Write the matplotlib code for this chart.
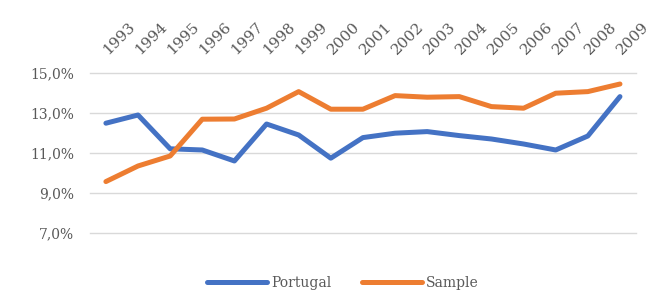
import matplotlib
matplotlib.use("Agg")
import matplotlib.pyplot as plt
import matplotlib.transforms as mtransforms
from matplotlib.ticker import FuncFormatter

years = [str(y) for y in range(1993, 2010)]
portugal = [12.47, 12.88, 11.19, 11.13, 10.58, 12.43, 11.88, 10.72, 11.75,
            11.97, 12.05, 11.85, 11.68, 11.43, 11.13, 11.83, 13.80]
sample = [9.55, 10.33, 10.83, 12.67, 12.68, 13.22, 14.05, 13.17, 13.17,
          13.85, 13.77, 13.80, 13.30, 13.22, 13.97, 14.05, 14.43]

plt.rcParams['font.family'] = ['DejaVu Serif']
text_color = '#595959'

fig = plt.figure(figsize=(6.51, 2.94), dpi=100)
ax = fig.add_axes([0.138, 0.209, 0.839, 0.544])

x = range(len(years))
ax.plot(x, portugal, color='#4472C4', lw=3.6, solid_joinstyle='round',
        solid_capstyle='round', label='Portugal', zorder=3)
ax.plot(x, sample, color='#ED7D31', lw=3.6, solid_joinstyle='round',
        solid_capstyle='round', label='Sample', zorder=3)

ax.set_xlim(-0.5, len(years) - 0.5)
ax.set_ylim(7, 15)
ax.set_yticks([7, 9, 11, 13, 15])
ax.yaxis.set_major_formatter(FuncFormatter(lambda v, p: f"{v:.1f}%".replace('.', ',')))
ax.grid(axis='y', color='#D9D9D9', lw=1.0)
for gl in ax.get_ygridlines():
    gl.set_clip_on(False)
ax.set_axisbelow(True)
for s in ax.spines.values():
    s.set_visible(False)

ax.xaxis.tick_top()
ax.set_xticks(list(x))
ax.set_xticklabels(years, rotation=45, ha='left', va='bottom',
                   rotation_mode='anchor')
ax.tick_params(axis='x', length=0, pad=11, labelsize=11, colors=text_color)
ax.tick_params(axis='y', length=0, pad=11.5, labelsize=10, colors=text_color)

# nudge the year labels a little to the right
shift = mtransforms.ScaledTranslation(4 / 100, 0, fig.dpi_scale_trans)
for lbl in ax.get_xticklabels():
    lbl.set_transform(lbl.get_transform() + shift)

leg = fig.legend(loc='center', bbox_to_anchor=(0.527, 0.037), ncol=2,
                 frameon=False, fontsize=10, handlelength=4.3,
                 handletextpad=0.3, columnspacing=2.2)
for t in leg.get_texts():
    t.set_color(text_color)

fig.savefig('out.png', dpi=100)
